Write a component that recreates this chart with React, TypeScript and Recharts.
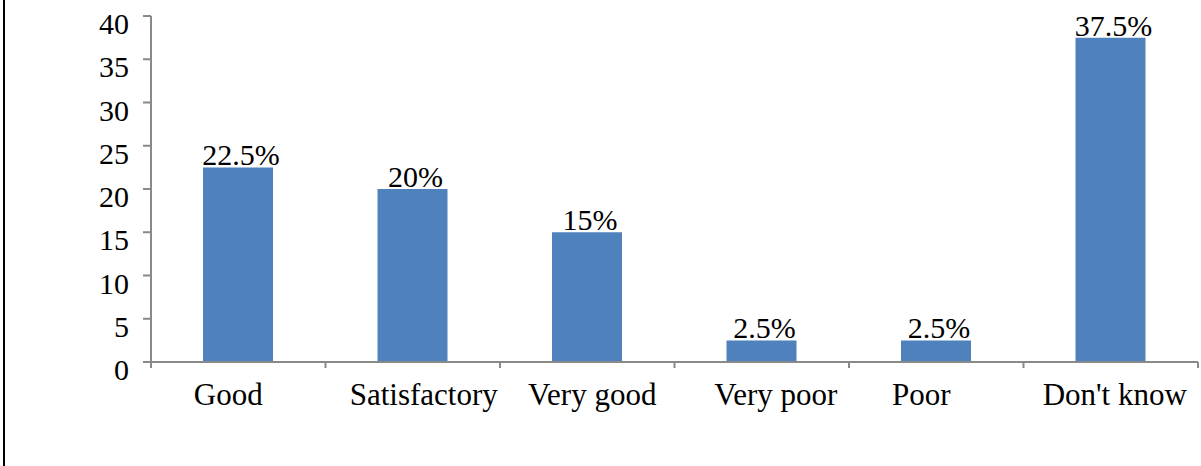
import { BarChart, Bar, XAxis, YAxis, LabelList } from 'recharts'

const categories = ['Good', 'Satisfactory', 'Very good', 'Very poor', 'Poor', "Don't know"]
const percentages = [22.5, 20, 15, 2.5, 2.5, 37.5]
const yTicks = [0, 5, 10, 15, 20, 25, 30, 35, 40]

const data = categories.map((name, i) => ({ name, value: percentages[i] }))

const WIDTH = 1201
const HEIGHT = 466
const LEFT = 151
const RIGHT = 3
const TOP = 16
const X_AXIS_H = 104
const BAND = (WIDTH - LEFT - RIGHT) / categories.length
const AXIS_GRAY = '#898989'
const FONT = "'Times New Roman', Tinos, 'Liberation Serif', 'DejaVu Serif', serif"

// Excel put the category labels a little off-centre; small nudges per label
const labelNudge = [-10, 11, 5, 14, -15, 4]

const CategoryTick = (props: any) => {
  const { x, y, payload, index } = props
  const last = index === categories.length - 1
  return (
    <g>
      <line x1={x - BAND / 2} x2={x - BAND / 2} y1={y} y2={y + 6} stroke={AXIS_GRAY} strokeWidth={2} />
      {last && <line x1={x + BAND / 2} x2={x + BAND / 2} y1={y} y2={y + 6} stroke={AXIS_GRAY} strokeWidth={2} />}
      <text
        x={x + (labelNudge[index] || 0)}
        y={y + 21}
        dy="0.71em"
        textAnchor="middle"
        fill="#000"
        fontFamily={FONT}
        fontSize={31}
      >
        {payload.value}
      </text>
    </g>
  )
}

const ValueLabel = (props: any) => {
  const { x, y, width, value } = props
  return (
    <text x={x + width / 2 + 3} y={y - 2} textAnchor="middle" fill="#000" fontFamily={FONT} fontSize={30}>
      {`${value}%`}
    </text>
  )
}

const NumberTick = (props: any) => {
  const { x, y, payload } = props
  return (
    <text x={x} y={y + 18} textAnchor="end" fill="#000" fontFamily={FONT} fontSize={30}>
      {payload.value}
    </text>
  )
}

export default function App() {
  return (
    <div style={{ position: 'absolute', left: 0, top: 0, width: WIDTH, height: HEIGHT, background: '#fff', fontFamily: FONT }}>
      <div style={{ position: 'absolute', left: 3, top: 0, width: 2, height: HEIGHT, background: '#000' }} />
      <BarChart
        width={WIDTH}
        height={HEIGHT}
        data={data}
        margin={{ top: TOP, right: RIGHT, left: 0, bottom: 0 }}
      >
        <XAxis
          dataKey="name"
          height={X_AXIS_H}
          axisLine={{ stroke: AXIS_GRAY, strokeWidth: 2 }}
          tickLine={false}
          tickSize={0}
          tickMargin={0}
          interval={0}
          tick={<CategoryTick />}
        />
        <YAxis
          width={LEFT}
          domain={[0, 40]}
          ticks={yTicks}
          interval={0}
          axisLine={{ stroke: AXIS_GRAY, strokeWidth: 2 }}
          tickLine={{ stroke: AXIS_GRAY, strokeWidth: 2 }}
          tickSize={8}
          tickMargin={14}
          tick={<NumberTick />}
        />
        <Bar dataKey="value" fill="#4F81BD" barSize={70} isAnimationActive={false}>
          <LabelList dataKey="value" content={<ValueLabel />} />
        </Bar>
      </BarChart>
    </div>
  )
}
